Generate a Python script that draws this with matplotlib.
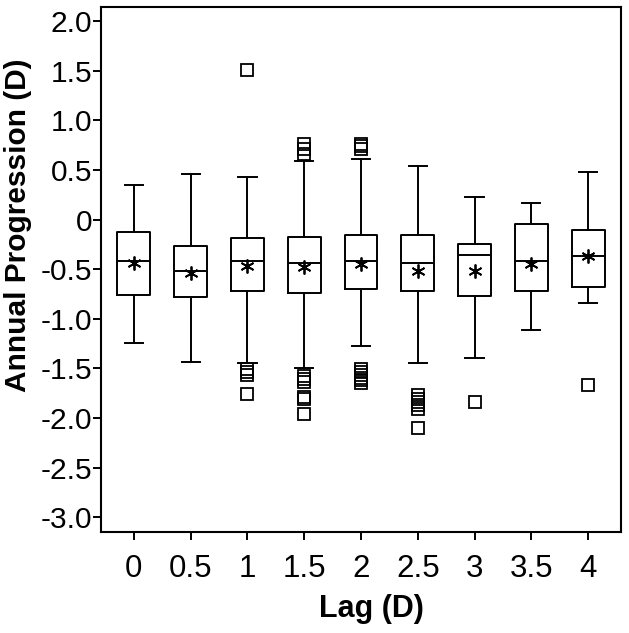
import matplotlib
matplotlib.use("Agg")
import matplotlib.pyplot as plt
import numpy as np

plt.rcParams['font.family'] = ['Liberation Sans', 'DejaVu Sans']

lag_labels = ["0", "0.5", "1", "1.5", "2", "2.5", "3", "3.5", "4"]
whis_low = [-1.24, -1.43, -1.45, -1.50, -1.27, -1.45, -1.39, -1.11, -0.845]
q1 = [-0.76, -0.785, -0.72, -0.74, -0.70, -0.72, -0.77, -0.72, -0.68]
median = [-0.42, -0.52, -0.42, -0.44, -0.42, -0.44, -0.36, -0.42, -0.37]
q3 = [-0.13, -0.27, -0.19, -0.18, -0.16, -0.16, -0.245, -0.048, -0.11]
whis_high = [0.345, 0.46, 0.43, 0.585, 0.605, 0.54, 0.23, 0.165, 0.475]
means = [-0.44, -0.535, -0.47, -0.475, -0.445, -0.515, -0.515, -0.45, -0.37]
outliers = [
    [],
    [],
    [1.51, -1.51, -1.54, -1.57, -1.76],
    [0.66, 0.71, 0.76, -1.58, -1.61, -1.64, -1.79, -1.81, -1.96],
    [0.71, 0.74, 0.76, -1.51, -1.54, -1.57, -1.60, -1.62, -1.645],
    [-1.77, -1.81, -1.84, -1.87, -1.905, -2.10],
    [-1.835],
    [],
    [-1.67],
]
ytick_vals = [2.0, 1.5, 1.0, 0.5, 0.0, -0.5, -1.0, -1.5, -2.0, -2.5, -3.0]
ytick_labels = ["2.0", "1.5", "1.0", "0.5", "0", "-0.5", "-1.0", "-1.5", "-2.0", "-2.5", "-3.0"]

stats = []
for i in range(len(lag_labels)):
    stats.append(dict(med=median[i], q1=q1[i], q3=q3[i], whislo=whis_low[i],
                      whishi=whis_high[i], mean=means[i], fliers=outliers[i]))

fig = plt.figure(figsize=(6.29, 6.33), dpi=100)
ax = fig.add_axes([101/629, 1-532/633, 520/629, 525/633])

lw = 1.4
positions = np.arange(len(lag_labels))
ax.bxp(stats, positions=positions, widths=0.58, capwidths=0.32, showmeans=True,
       boxprops=dict(color='black', linewidth=lw),
       medianprops=dict(color='black', linewidth=lw),
       whiskerprops=dict(color='black', linewidth=lw),
       capprops=dict(color='black', linewidth=lw),
       flierprops=dict(marker='s', markersize=8, markerfacecolor='none',
                       markeredgecolor='black', markeredgewidth=1.3, linestyle='none'),
       meanprops=dict(marker=(6, 2, 0), markersize=10, markeredgecolor='black',
                      markeredgewidth=1.3, linestyle='none'))

ax.set_xlim(-0.58, 8.58)
ax.set_ylim(-3.147, 2.14)

ax.set_xticks(positions)
ax.set_xticklabels(lag_labels)
ax.set_yticks(ytick_vals)
ax.set_yticklabels(ytick_labels)

ax.tick_params(axis='x', direction='out', length=6, width=1.4, pad=10, labelsize=22.5)
ax.tick_params(axis='y', direction='out', length=6, width=1.4, pad=0.5, labelsize=21.5)
for s in ax.spines.values():
    s.set_linewidth(1.5)

ax.set_xlabel("Lag (D)", fontsize=22, fontweight='bold')
ax.xaxis.set_label_coords(0.52, -0.118)
ax.set_ylabel("Annual Progression (D)", fontsize=21.5, fontweight='bold')
ax.yaxis.set_label_coords(-0.133, 0.585)

fig.savefig("out.png", dpi=100)
